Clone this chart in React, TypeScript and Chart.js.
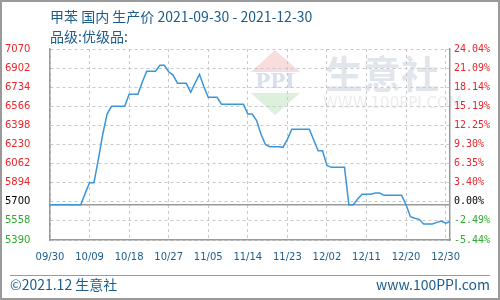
import { useEffect, useRef } from "react";
import { Chart, registerables } from "chart.js";

Chart.register(...registerables);

const titleText = "甲苯 国内 生产价 2021-09-30 - 2021-12-30";
const subtitleText = "品级:优级品:";
const footerLeft = "©2021.12 生意社";
const footerRight = "www.100PPI.com";

// x ticks: day offsets from 2021-09-30
const xTickDays = [0, 9, 18, 27, 36, 45, 54, 63, 72, 81, 90];
const xTickLabels = ["09/30", "10/09", "10/18", "10/27", "11/05", "11/14", "11/23", "12/02", "12/11", "12/20", "12/30"];
const xMax = 91;

const yTickValues = [5390, 5558, 5726, 5894, 6062, 6230, 6398, 6566, 6734, 6902, 7070];
const yLeftLabels = ["5390", "5558", "5700", "5894", "6062", "6230", "6398", "6566", "6734", "6902", "7070"];
const yRightLabels = ["-5.44%", "-2.49%", "0.00%", "3.40%", "6.35%", "9.30%", "12.25%", "15.19%", "18.14%", "21.09%", "24.04%"];
const baseValue = 5700;
const baseTickValue = 5726;

// daily price, 2021-09-30 .. 2021-12-30
const prices = [
  5700, 5700, 5700, 5700, 5700, 5700, 5700, 5700, 5800, 5894,
  5894, 6100, 6320, 6500, 6566, 6566, 6566, 6566, 6672, 6672,
  6672, 6780, 6874, 6874, 6874, 6927, 6927, 6870, 6841, 6768,
  6768, 6768, 6689, 6770, 6847, 6740, 6645, 6645, 6645, 6584,
  6584, 6584, 6584, 6584, 6584, 6498, 6498, 6440, 6320, 6230,
  6211, 6211, 6211, 6205, 6275, 6364, 6364, 6364, 6364, 6364,
  6270, 6175, 6175, 6045, 6029, 6029, 6029, 6029, 5700, 5700,
  5750, 5792, 5792, 5792, 5803, 5803, 5783, 5783, 5783, 5783,
  5783, 5700, 5595, 5581, 5572, 5531, 5531, 5531, 5545, 5557,
  5537, 5551,
];

const RED = "#e8262a";
const GREEN = "#2fa82f";
const BLACK = "#000000";
const BLUE_TEXT = "#1b5d8c";
const GRID = "#c8c8c8";
const AXIS = "#9a9a9a";

const tickColor = (v: number) => (v === baseTickValue ? BLACK : v < baseValue ? GREEN : RED);

const decorPlugin = {
  id: "decor",
  beforeDraw(chart: any) {
    const ctx = chart.ctx as CanvasRenderingContext2D;
    const { width, height } = chart;
    ctx.save();
    ctx.fillStyle = "#ffffff";
    ctx.fillRect(0, 0, width, height);

    // watermark logo
    ctx.fillStyle = "#f9dcdc";
    ctx.beginPath();
    ctx.moveTo(275, 50);
    ctx.lineTo(300, 72);
    ctx.lineTo(251, 72);
    ctx.closePath();
    ctx.fill();
    ctx.fillStyle = "#dcf0dc";
    ctx.beginPath();
    ctx.moveTo(251, 93);
    ctx.lineTo(300, 93);
    ctx.lineTo(275, 115);
    ctx.closePath();
    ctx.fill();
    ctx.fillStyle = "#d8e0ee";
    ctx.font = "bold 20px 'DejaVu Serif'";
    ctx.textBaseline = "middle";
    ctx.textAlign = "center";
    ctx.fillText("PPI", 275, 83);

    ctx.fillStyle = "#e1e5ec";
    ctx.font = "bold 38px 'Noto Sans CJK SC'";
    ctx.textAlign = "left";
    ctx.fillText("生意社", 325, 74);
    ctx.fillStyle = "#ececec";
    ctx.font = "15px 'DejaVu Sans'";
    ctx.fillText("WWW.100PPI.COM", 323, 104);

    // title
    ctx.fillStyle = BLUE_TEXT;
    ctx.font = "14px 'Noto Sans CJK SC'";
    ctx.textAlign = "left";
    ctx.fillText(titleText, 50, 17);
    ctx.fillText(subtitleText, 50, 37);

    // footer
    ctx.strokeStyle = AXIS;
    ctx.lineWidth = 1;
    ctx.beginPath();
    ctx.moveTo(10, 275.5);
    ctx.lineTo(490, 275.5);
    ctx.stroke();
    ctx.font = "14px 'Noto Sans CJK SC'";
    ctx.fillText(footerLeft, 10, 285);
    ctx.textAlign = "right";
    ctx.fillText(footerRight, 490, 285);

    // outer frame
    ctx.strokeStyle = AXIS;
    ctx.lineWidth = 2;
    ctx.strokeRect(1, 1, width - 2, height - 2);
    ctx.restore();
  },
};

export default function App() {
  const ref = useRef<HTMLCanvasElement | null>(null);

  useEffect(() => {
    if (!ref.current) return;
    const chart = new Chart(ref.current, {
      type: "line",
      data: {
        datasets: [
          {
            data: prices.map((p, i) => ({ x: i, y: p })),
            borderColor: "#3a96d8",
            borderWidth: 1.5,
            pointRadius: 0,
            tension: 0,
            order: 1,
            yAxisID: "y",
          },
          {
            data: [
              { x: 0, y: baseValue },
              { x: xMax, y: baseValue },
            ],
            borderColor: AXIS,
            borderWidth: 1.5,
            pointRadius: 0,
            order: 2,
            yAxisID: "y",
          },
        ],
      },
      options: {
        animation: false,
        responsive: false,
        events: [],
        layout: { padding: { top: 49, left: 5, right: 0, bottom: 0 } },
        plugins: { legend: { display: false }, tooltip: { enabled: false }, title: { display: false } },
        scales: {
          x: {
            type: "linear",
            min: 0,
            max: xMax,
            afterBuildTicks: (s: any) => {
              s.ticks = xTickDays.map((v) => ({ value: v }));
            },
            afterFit: (s: any) => {
              s.height = 60;
            },
            grid: { color: GRID, lineWidth: 1, drawTicks: false },
            border: { display: true, color: AXIS, width: 1.5, dash: [3, 3] },
            ticks: {
              padding: 11,
              maxRotation: 0,
              autoSkip: false,
              color: BLUE_TEXT,
              font: { family: "'DejaVu Sans'", size: 10 },
              callback: (_v: any, i: number) => xTickLabels[i],
            },
          },
          y: {
            type: "linear",
            position: "left",
            min: 5390,
            max: 7070,
            afterBuildTicks: (s: any) => {
              s.ticks = yTickValues.map((v) => ({ value: v }));
            },
            afterFit: (s: any) => {
              s.width = 45;
            },
            grid: { color: GRID, lineWidth: 1, drawTicks: false },
            border: { display: true, color: AXIS, width: 1.5, dash: [3, 3] },
            ticks: {
              crossAlign: "far",
              padding: 4,
              autoSkip: false,
              color: (c: any) => tickColor(c.tick.value),
              font: { family: "'DejaVu Sans'", size: 10 },
              callback: (_v: any, i: number) => yLeftLabels[i],
            },
          },
          y2: {
            type: "linear",
            position: "right",
            min: 5390,
            max: 7070,
            afterBuildTicks: (s: any) => {
              s.ticks = yTickValues.map((v) => ({ value: v }));
            },
            afterFit: (s: any) => {
              s.width = 50;
            },
            grid: { display: false, drawTicks: false },
            border: { display: true, color: AXIS, width: 1.5 },
            ticks: {
              padding: 4,
              autoSkip: false,
              color: (c: any) => tickColor(c.tick.value),
              font: { family: "'DejaVu Sans Mono'", size: 10 },
              callback: (_v: any, i: number) => yRightLabels[i],
            },
          },
        },
      },
      plugins: [decorPlugin],
    });
    return () => chart.destroy();
  }, []);

  return (
    <div style={{ position: "fixed", left: 0, top: 0, width: 500, height: 300 }}>
      <canvas ref={ref} width={500} height={300} style={{ width: 500, height: 300, display: "block" }} />
    </div>
  );
}
